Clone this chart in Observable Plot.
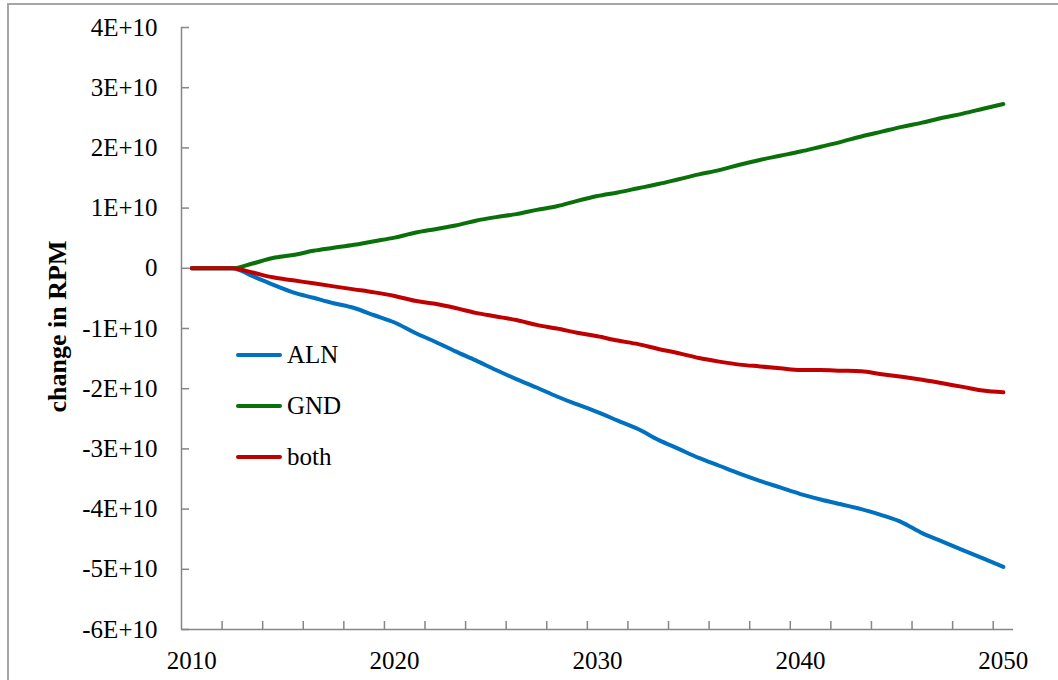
<!DOCTYPE html>
<html>
<head>
<meta charset="utf-8">
<script src="https://cdn.jsdelivr.net/npm/d3@7"></script>
<script src="https://cdn.jsdelivr.net/npm/@observablehq/plot@0.6"></script>
<style>
  body { margin: 0; background: #fff; }
  #wrap { position: relative; width: 1058px; height: 680px; overflow: hidden; background: #fff; }
  #frame { position: absolute; left: 7px; top: 3px; width: 1100px; height: 720px; border-left: 2px solid #a6a6a6; border-top: 2px solid #a6a6a6; box-sizing: border-box; }
  #chart { position: absolute; left: 0; top: 0; }
  #legend { position: absolute; left: 236px; top: 329px; font-family: "Liberation Serif", "Times New Roman", serif; font-size: 25px; color: #000; }
  .item { display: flex; align-items: center; height: 51px; }
  .swatch { width: 46px; height: 4px; border-radius: 2px; margin-right: 5px; }
</style>
</head>
<body>
<div id="wrap">
  <div id="frame"></div>
  <div id="chart"></div>
  <div id="legend"></div>
</div>
<script>
// Data (values in units of 1E+10 RPM)
const years = d3.range(2010, 2051);
const seriesNames = ["ALN", "GND", "both"];
const seriesColors = ["#0070C0", "#0A700A", "#C00000"];
const aln = [0, 0, 0, -0.13, -0.27, -0.40, -0.49, -0.58, -0.66, -0.78,
  -0.90, -1.07, -1.22, -1.38, -1.53, -1.69, -1.84, -1.98, -2.13, -2.26,
  -2.39, -2.53, -2.67, -2.85, -3.00, -3.15, -3.28, -3.41, -3.53, -3.64,
  -3.75, -3.84, -3.92, -4.00, -4.10, -4.22, -4.40, -4.54, -4.68, -4.82, -4.96];
const gnd = [0, 0, 0, 0.08, 0.17, 0.22, 0.29, 0.34, 0.39, 0.45,
  0.51, 0.59, 0.65, 0.71, 0.79, 0.85, 0.90, 0.97, 1.03, 1.12,
  1.20, 1.26, 1.33, 1.40, 1.48, 1.56, 1.63, 1.72, 1.80, 1.87,
  1.94, 2.02, 2.10, 2.19, 2.27, 2.35, 2.42, 2.50, 2.57, 2.65, 2.73];
const both = [0, 0, 0, -0.07, -0.15, -0.20, -0.25, -0.30, -0.35, -0.40,
  -0.46, -0.54, -0.59, -0.66, -0.74, -0.80, -0.86, -0.94, -1.00, -1.07,
  -1.13, -1.20, -1.26, -1.34, -1.41, -1.49, -1.55, -1.60, -1.63, -1.66,
  -1.69, -1.69, -1.70, -1.71, -1.76, -1.80, -1.85, -1.91, -1.97, -2.03, -2.06];
const yTicks = [-6, -5, -4, -3, -2, -1, 0, 1, 2, 3, 4].map(v => v * 1e10);
const xLabels = [2010, 2020, 2030, 2040, 2050];
// tick marks sit between categories, every second category
const xTickMarks = years.filter(y => y >= 2011 && y < 2050 && (y - 2011) % 2 === 0).map(y => y + 0.5);

const rows = [];
[aln, gnd, both].forEach((vals, i) => {
  vals.forEach((v, j) => rows.push({series: seriesNames[i], year: years[j], value: v * 1e10}));
});

const W = 1058, H = 680, mL = 181, mR = 45, mT = 27, mB = 51;
const plotW = W - mL - mR, plotH = H - mT - mB;
const axisColor = "#868686";
const fmt = v => v === 0 ? "0" : `${v / 1e10}E+10`;

const chart = Plot.plot({
  width: W, height: H,
  marginLeft: mL, marginRight: mR, marginTop: mT, marginBottom: mB,
  x: {domain: [years[0] - 0.5, years[years.length - 1] + 0.5]},
  y: {domain: [yTicks[0], yTicks[yTicks.length - 1]]},
  color: {domain: seriesNames, range: seriesColors},
  style: {fontFamily: "'Liberation Serif', 'Times New Roman', serif", fontSize: "25px", color: "#000", background: "transparent", overflow: "visible"},
  marks: [
    Plot.ruleX([years[0] - 0.5], {stroke: axisColor, strokeWidth: 1.5}),
    Plot.ruleY([yTicks[0]], {stroke: axisColor, strokeWidth: 1.5}),
    Plot.tickY(yTicks, {y: d => d, stroke: axisColor, strokeWidth: 1.5, insetRight: plotW - 8}),
    Plot.tickX(xTickMarks, {x: d => d, stroke: axisColor, strokeWidth: 1.5, insetTop: plotH - 8}),
    Plot.axisY({ticks: yTicks, tickSize: 0, tickPadding: 24, tickFormat: fmt, label: null, fontSize: 25}),
    Plot.axisX({ticks: xLabels, tickSize: 0, tickPadding: 22, tickFormat: d => String(d), label: null, fontSize: 25}),
    Plot.text(["change in RPM"], {frameAnchor: "left", textAnchor: "middle", lineAnchor: "middle", rotate: -90, dx: -124, dy: -2, fontWeight: "bold", fontSize: 26, fill: "#000"}),
    Plot.line(rows, {x: "year", y: "value", z: "series", stroke: "series", strokeWidth: 4, strokeLinecap: "round", strokeLinejoin: "round", curve: "monotone-x"})
  ]
});
document.getElementById("chart").appendChild(chart);

const legend = document.getElementById("legend");
seriesNames.forEach((name, i) => {
  const item = document.createElement("div");
  item.className = "item";
  const sw = document.createElement("div");
  sw.className = "swatch";
  sw.style.background = seriesColors[i];
  const label = document.createElement("span");
  label.textContent = name;
  item.appendChild(sw);
  item.appendChild(label);
  legend.appendChild(item);
});
</script>
</body>
</html>
